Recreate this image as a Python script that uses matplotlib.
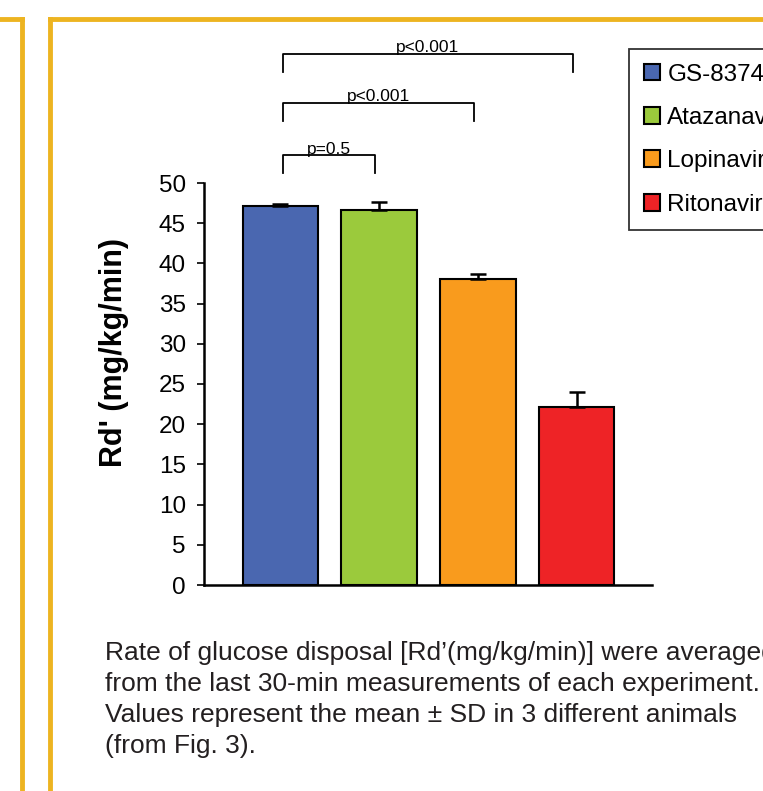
import matplotlib
matplotlib.use("Agg")
import matplotlib.pyplot as plt
from matplotlib.patches import Patch
from matplotlib.lines import Line2D

plt.rcParams['font.family'] = ['Liberation Sans', 'DejaVu Sans']

drugs = ['GS-8374', 'Atazanavir', 'Lopinavir', 'Ritonavir']
rd_mean = [47.1, 46.6, 38.1, 22.1]
rd_sd = [0.3, 1.0, 0.6, 1.9]
colors = ['#4a67b0', '#9bca3c', '#f99b1d', '#ee2326']
yticks = list(range(0, 55, 5))

# significance brackets: (from bar, to bar, height, label)
brackets = [(0, 1, 53.5, 'p=0.5'),
            (0, 2, 60.0, 'p<0.001'),
            (0, 3, 66.1, 'p<0.001')]

caption = ("Rate of glucose disposal [Rd\u2019(mg/kg/min)] were averaged\n"
           "from the last 30-min measurements of each experiment.\n"
           "Values represent the mean \u00b1 SD in 3 different animals\n"
           "(from Fig. 3).")

W, H = 763, 791
fig = plt.figure(figsize=(W / 100, H / 100), dpi=100)

gold = '#edb421'
# panel borders
fig.add_artist(Line2D([22 / W, 22 / W], [0, 1 - 19 / H], color=gold, lw=3.5))
fig.add_artist(Line2D([0, 22 / W], [1 - 19 / H, 1 - 19 / H], color=gold, lw=3.5))
fig.add_artist(Line2D([50 / W, 50 / W], [0, 1 - 19 / H], color=gold, lw=3.5))
fig.add_artist(Line2D([50 / W, 1], [1 - 19 / H, 1 - 19 / H], color=gold, lw=3.5))

ax = fig.add_axes([204 / W, 1 - 585 / H, (652 - 204) / W, (585 - 183) / H])
x = list(range(len(drugs)))
ax.bar(x, rd_mean, width=0.76, color=colors, edgecolor='black', linewidth=1.5,
       yerr=[[0] * 4, rd_sd], error_kw=dict(ecolor='black', elinewidth=1.8,
                                           capsize=6, capthick=1.8))
ax.set_xlim(-0.77, 3.76)
ax.set_ylim(0, 50)
ax.set_yticks(yticks)
ax.set_yticklabels([str(t) for t in yticks], fontsize=17.5)
ax.set_xticks([])
ax.spines['top'].set_visible(False)
ax.spines['right'].set_visible(False)
ax.spines['left'].set_linewidth(1.8)
ax.spines['bottom'].set_linewidth(1.8)
ax.tick_params(axis='y', direction='out', length=5, width=1.2, pad=8)
ax.set_ylabel("Rd' (mg/kg/min)", fontsize=22, fontweight='bold')
ax.yaxis.set_label_coords(-0.168, 0.578)

for a, b, h, lab in brackets:
    xa = a + 0.03
    xb = b - 0.04
    ax.plot([xa, xa, xb, xb], [h - 2.3, h, h, h - 2.3], color='black', lw=1.3,
            clip_on=False)
    ax.text((xa + xb) / 2, h + 0.15, lab, ha='center', va='baseline', fontsize=12.5)

handles = [Patch(facecolor=c, edgecolor='black', linewidth=1.5) for c in colors]
leg = fig.legend(handles, drugs, loc='upper left',
                 bbox_to_anchor=(629 / W, 1 - 49 / H), fontsize=17.5,
                 frameon=True, fancybox=False, edgecolor='black',
                 handlelength=0.68, handleheight=0.68, handletextpad=0.3,
                 labelspacing=0.88, borderpad=0.6, borderaxespad=0)
leg.get_frame().set_linewidth(1.3)

fig.text(105 / W, 1 - 641 / H, caption, ha='left', va='top', fontsize=19,
         linespacing=1.37, color='#231f20')

fig.savefig('out.png', dpi=100)
